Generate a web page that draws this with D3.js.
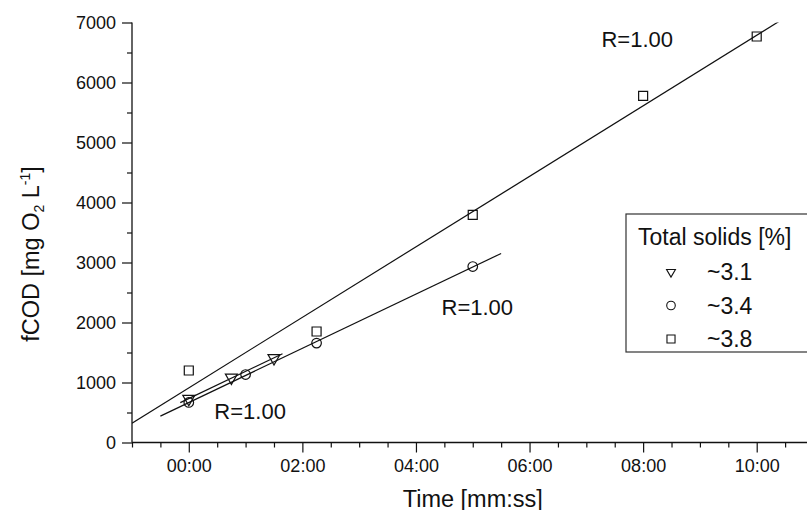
<!DOCTYPE html>
<html>
<head>
<meta charset="utf-8">
<script src="https://cdn.jsdelivr.net/npm/d3@7"></script>
<style>
  html, body { margin: 0; padding: 0; background: #fff; }
  svg { display: block; font-family: "Liberation Sans", Arial, Helvetica, sans-serif; }
</style>
</head>
<body>
<svg id="chart" width="807" height="510"></svg>
<script>
// Series: total solids content, sampling time (seconds) and filtered COD (mg O2/L)
const seriesNames = ["~3.1", "~3.4", "~3.8"];
const seriesSymbols = ["triangleDown", "circle", "square"];
const time31 = [0, 45, 90];
const fcod31 = [728, 1083, 1407];
const time34 = [0, 60, 135, 300];
const fcod34 = [667, 1133, 1657, 2933];
const time38 = [0, 135, 300, 480, 600];
const fcod38 = [1200, 1850, 3795, 5778, 6767];

// Correlation labels placed next to each fit line (time in s, fCOD at baseline)
const rLabelText = ["R=1.00", "R=1.00", "R=1.00"];
const rLabelTime = [27, 267, 436];
const rLabelFcod = [390, 2128, 6590];

// Axis ticks
const xMajorTicks = [0, 120, 240, 360, 480, 600];
const xMinorTicks = [-60, -30, 30, 60, 90, 150, 180, 210, 270, 300, 330, 390, 420, 450, 510, 540, 570, 630, 660];
const yMajorTicks = [0, 1000, 2000, 3000, 4000, 5000, 6000, 7000];
const yMinorTicks = [500, 1500, 2500, 3500, 4500, 5500, 6500];

const legendTitle = "Total solids [%]";

(function () {
const allTimes = [time31, time34, time38];
const allFcod = [fcod31, fcod34, fcod38];
const series = seriesNames.map((name, i) => ({
  name,
  symbol: seriesSymbols[i],
  points: allTimes[i].map((t, j) => ({ t, v: allFcod[i][j] })),
  label: { text: rLabelText[i], t: rLabelTime[i], v: rLabelFcod[i] }
}));

const svg = d3.select("#chart");
const plotL = 132, plotR = 813.5, plotT = 22.5, plotB = 442.5;

const x = d3.scaleLinear().domain([-60, 660]).range([plotL, plotR]);
const y = d3.scaleLinear().domain([0, 7000]).range([plotB, plotT]);

const fmtTime = s => {
  const m = Math.floor(s / 60), sec = s - m * 60;
  return String(m).padStart(2, "0") + ":" + String(sec).padStart(2, "0");
};

const ink = "#111";

// Clip region for the fit lines
svg.append("defs").append("clipPath").attr("id", "plotClip")
  .append("rect").attr("x", plotL).attr("y", plotT)
  .attr("width", plotR - plotL).attr("height", plotB - plotT);

// Axes
function styleAxis(g) {
  g.select(".domain").remove();
  g.attr("font-size", null).attr("font-family", null);
  g.selectAll("line").attr("stroke", ink).attr("stroke-width", 1.2);
  g.selectAll("text").attr("fill", ink).style("font-size", "18px")
    .style("font-family", "'Liberation Sans', Arial, sans-serif");
}

const xAxisG = svg.append("g").attr("transform", `translate(0,${plotB})`);
xAxisG.append("g").call(d3.axisBottom(x).tickValues(xMajorTicks).tickFormat(fmtTime)
  .tickSize(10).tickPadding(7)).call(styleAxis);
xAxisG.append("g").call(d3.axisBottom(x).tickValues(xMinorTicks).tickFormat("")
  .tickSize(5)).call(styleAxis);
xAxisG.append("line").attr("x1", plotL).attr("x2", plotR).attr("y1", 0).attr("y2", 0)
  .attr("stroke", ink).attr("stroke-width", 1.3);

const yAxisG = svg.append("g").attr("transform", `translate(${plotL},0)`);
yAxisG.append("g").call(d3.axisLeft(y).tickValues(yMajorTicks).tickFormat(d3.format("d"))
  .tickSize(10).tickPadding(6)).call(styleAxis);
yAxisG.append("g").call(d3.axisLeft(y).tickValues(yMinorTicks).tickFormat("")
  .tickSize(5)).call(styleAxis);
yAxisG.append("line").attr("x1", 0).attr("x2", 0).attr("y1", plotT).attr("y2", plotB)
  .attr("stroke", ink).attr("stroke-width", 1.3);

// Axis titles
svg.append("text").attr("x", (plotL + plotR) / 2).attr("y", 506.5)
  .attr("text-anchor", "middle").attr("font-size", "23.5px").attr("fill", ink)
  .text("Time [mm:ss]");

const yt = svg.append("text")
  .attr("transform", "translate(39,254) rotate(-90)")
  .attr("text-anchor", "middle").attr("font-size", "23.5px").attr("fill", ink);
yt.append("tspan").text("fCOD [mg O");
yt.append("tspan").attr("font-size", "14px").attr("dy", 5).text("2");
yt.append("tspan").attr("dy", -5).text(" L");
yt.append("tspan").attr("font-size", "14px").attr("dy", -9).text("-1");
yt.append("tspan").attr("dy", 9).text("]");

// Least-squares fit lines, extended 10% of the time span on each side
function linFit(pts) {
  const mx = d3.mean(pts, d => d.t), my = d3.mean(pts, d => d.v);
  const sxy = d3.sum(pts, d => (d.t - mx) * (d.v - my));
  const sxx = d3.sum(pts, d => (d.t - mx) ** 2);
  const b = sxy / sxx;
  return { b, a: my - b * mx };
}

const fitG = svg.append("g").attr("clip-path", "url(#plotClip)");
series.forEach(s => {
  const f = linFit(s.points);
  const [t0, t1] = d3.extent(s.points, d => d.t);
  const pad = (t1 - t0) * 0.1;
  const ends = [t0 - pad, t1 + pad];
  fitG.append("line")
    .attr("x1", x(ends[0])).attr("y1", y(f.a + f.b * ends[0]))
    .attr("x2", x(ends[1])).attr("y2", y(f.a + f.b * ends[1]))
    .attr("stroke", ink).attr("stroke-width", 1.2);
});

// Markers
function symbolPath(kind, scale) {
  if (kind === "triangleDown") return d3.symbol(d3.symbolTriangle, 62 * scale)();
  if (kind === "circle") return d3.symbol(d3.symbolCircle, 72 * scale)();
  return d3.symbol(d3.symbolSquare, 81 * scale)();
}

series.forEach(s => {
  svg.append("g").selectAll("path").data(s.points).join("path")
    .attr("d", symbolPath(s.symbol, 1))
    .attr("transform", d => `translate(${x(d.t)},${y(d.v)})` + (s.symbol === "triangleDown" ? " rotate(180)" : ""))
    .attr("fill", "none").attr("stroke", ink).attr("stroke-width", 1.2);
});

// Correlation labels
svg.append("g").selectAll("text").data(series).join("text")
  .attr("x", d => x(d.label.t)).attr("y", d => y(d.label.v))
  .attr("font-size", "22px").attr("fill", ink)
  .text(d => d.label.text);

// Legend
const lg = svg.append("g").attr("transform", "translate(626,214)");
lg.append("rect").attr("x", 0).attr("y", 0).attr("width", 220).attr("height", 138)
  .attr("fill", "#fff").attr("stroke", "#333").attr("stroke-width", 1.2);
lg.append("text").attr("x", 12).attr("y", 31).attr("font-size", "23px").attr("fill", ink)
  .text(legendTitle);
const rowY = d3.scalePoint().domain(seriesNames).range([58, 125]);
const rows = lg.selectAll("g.row").data(series).join("g").attr("class", "row")
  .attr("transform", d => `translate(0,${rowY(d.name)})`);
rows.append("path")
  .attr("d", d => symbolPath(d.symbol, d.symbol === "triangleDown" ? 0.55 : 0.8))
  .attr("transform", d => "translate(45,0)" + (d.symbol === "triangleDown" ? " rotate(180)" : ""))
  .attr("fill", "none").attr("stroke", ink).attr("stroke-width", 1.1);
rows.append("text").attr("x", 81).attr("y", 8).attr("font-size", "23px").attr("fill", ink)
  .text(d => d.name);
})();
</script>
</body>
</html>
